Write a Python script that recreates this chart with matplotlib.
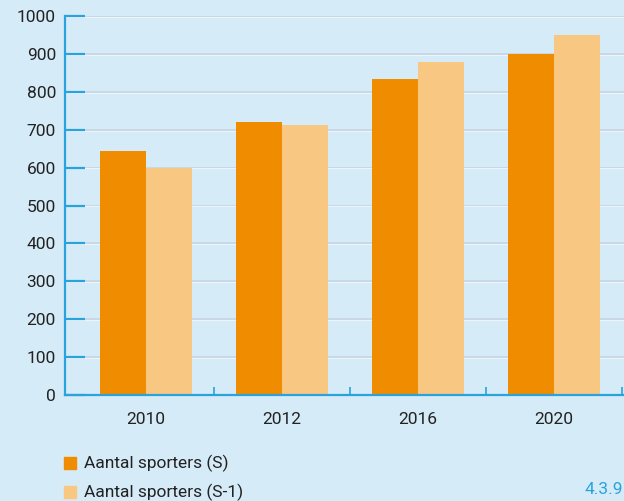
import matplotlib
matplotlib.use("Agg")
import matplotlib.pyplot as plt
from matplotlib.patches import Rectangle
import numpy

# data
years = ["2010", "2012", "2016", "2020"]
sporters_s = [645, 720, 834, 900]
sporters_s1 = [600, 712, 879, 950]
yticks = [0, 100, 200, 300, 400, 500, 600, 700, 800, 900, 1000]
series_labels = ["Aantal sporters (S)", "Aantal sporters (S-1)"]

bg = "#d6ebf8"
blue = "#29a3dc"
dark = "#f08c00"
light = "#f8c882"
W, H = 624, 501

plt.rcParams['font.family'] = ['Roboto', 'DejaVu Sans']

fig = plt.figure(figsize=(W/100, H/100), dpi=100, facecolor=bg)
ax = fig.add_axes([65/W, (H-395)/H, (W-65)/W, 379/H], facecolor=bg)

x = numpy.arange(len(years))
bw = 0.338
ax.bar(x - bw/2, sporters_s, width=bw, color=dark, zorder=3)
ax.bar(x + bw/2, sporters_s1, width=bw, color=light, zorder=3)

# gridlines: grey line with a thin white highlight
for t in yticks[1:]:
    ax.axhline(t, color="#c8d7e2", lw=1.3, zorder=1)
    ax.axhline(t - 2.2, color="#eef6fc", lw=0.7, zorder=1)

ax.set_xlim(-0.596, 3.515)
ax.set_ylim(0, 1000)

ax.set_yticks(yticks)
ax.tick_params(axis='y', direction='in', length=14.5, width=1.6, color=blue,
               labelsize=12.5, pad=6.5, labelcolor="#222222")
ax.set_xticks(x)
ax.set_xticklabels(years)
ax.tick_params(axis='x', which='major', length=0, pad=12, labelsize=12.5,
               labelcolor="#222222")
ax.set_xticks(list(x + 0.5), minor=True)
ax.tick_params(axis='x', which='minor', direction='in', length=6, width=1.2,
               color=blue)

for s in ['top', 'right']:
    ax.spines[s].set_visible(False)
for s in ['left', 'bottom']:
    ax.spines[s].set_color(blue)
    ax.spines[s].set_linewidth(1.6)
    ax.spines[s].set_zorder(4)

# legend drawn by hand
for i, (lab, c) in enumerate(zip(series_labels, [dark, light])):
    y0 = 457 + i*29
    fig.add_artist(Rectangle((64/W, (H-y0-12)/H), 12/W, 12/H,
                             transform=fig.transFigure, color=c))
    fig.text(84/W, (H-y0-6)/H, lab, fontsize=12.5, va='center', ha='left',
             color="#222222")

fig.text(623/W, (H-490)/H, "4.3.9", fontsize=12.5, va='center', ha='right',
         color=blue)

plt.savefig("out.png", facecolor=bg)
